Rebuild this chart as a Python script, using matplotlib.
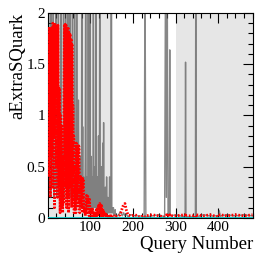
# Recreate the aExtraSQuark vs query number plot (ROOT style look)

import numpy as np
import matplotlib.pyplot as plt

# gray series, query numbers 1..160
gray_head = [0.5, 2.5, 0.6, 0.3, 0.9, 0.4, 0.2, 2.5, 0.7, 0.3,
             1.0, 0.4, 2.5, 0.5, 0.2, 0.6, 0.3, 0.8, 2.5, 0.4,
             0.2, 0.9, 0.5, 0.3, 2.5, 0.6, 0.2, 0.4, 1.1, 0.3,
             2.5, 0.5, 0.2, 0.7, 0.4, 0.3, 2.5, 0.6, 0.2, 0.5,
             0.9, 2.5, 0.3, 0.6, 0.2, 0.4, 2.5, 0.8, 0.3, 0.5,
             0.2, 2.5, 0.6, 0.4, 0.2, 1.0, 0.3, 2.5, 0.5, 0.2,
             0.7, 0.3, 2.5, 0.4, 0.2, 0.6, 0.1, 2.5, 0.3, 0.2,
             0.4, 1.15, 0.2, 0.5, 0.1, 0.3, 0.2, 0.6, 0.1, 2.5,
             0.3, 0.89, 0.2, 0.4, 0.1, 0.3, 0.1, 0.6, 2.5, 0.2,
             0.4, 0.1, 0.3, 0.2, 2.5, 0.1, 0.5, 0.2, 2.5, 0.1,
             0.3, 0.6, 0.1, 0.2, 0.4, 0.1, 2.5, 0.3, 0.1, 0.5,
             0.2, 0.1, 2.5, 0.3, 0.1, 0.4, 0.2, 0.1, 0.8, 0.1,
             0.2, 2.5, 0.1, 0.3, 0.1, 0.5, 0.1, 0.2, 0.73, 0.1,
             0.93, 0.1, 0.2, 0.05, 0.3, 0.1, 0.05, 0.4, 0.1, 0.05,
             0.2, 0.05, 0.1, 0.05, 0.4, 0.05, 0.1, 0.05, 2.5, 0.05,
             0.1, 0.05, 0.05, 0.1, 0.02, 0.05, 0.02, 0.08, 0.02, 0.03]

# red series, query numbers 1..160
red_head = [1.85, 0.4, 1.85, 1.1, 1.85, 0.2, 1.8, 1.85, 0.6, 1.85,
            0.3, 1.9, 1.88, 0.8, 1.9, 0.1, 1.9, 1.2, 1.88, 0.5,
            1.88, 1.85, 0.2, 1.88, 0.9, 1.28, 0.3, 1.25, 0.05, 1.0,
            0.4, 0.9, 0.1, 0.6, 0.05, 0.3, 0.15, 1.0, 1.89, 0.3,
            1.89, 0.6, 1.88, 0.1, 1.85, 1.2, 0.2, 1.85, 0.05, 1.8,
            0.3, 1.8, 1.78, 0.6, 1.75, 0.1, 1.7, 0.4, 1.1, 0.2,
            0.8, 0.05, 0.5, 0.1, 0.3, 0.05, 0.73, 0.2, 0.7, 0.4,
            0.72, 0.1, 0.7, 0.45, 0.05, 0.4, 0.42, 0.1, 0.4, 0.3,
            0.4, 0.05, 0.38, 0.1, 0.05, 0.1, 0.08, 0.02, 0.12, 0.2,
            0.22, 0.05, 0.2, 0.21, 0.1, 0.2, 0.02, 0.18, 0.05, 0.1,
            0.05, 0.08, 0.02, 0.06, 0.1, 0.03, 0.05, 0.02, 0.04, 0.02,
            0.05, 0.02, 0.03, 0.08, 0.02, 0.05, 0.02, 0.1, 0.12, 0.05,
            0.13, 0.14, 0.06, 0.13, 0.02, 0.12, 0.1, 0.05, 0.08, 0.02,
            0.06, 0.03, 0.05, 0.02, 0.04, 0.02, 0.03, 0.01, 0.02, 0.01,
            0.02, 0.01, 0.02, 0.01, 0.01, 0.02, 0.01, 0.01, 0.02, 0.01,
            0.02, 0.01, 0.01, 0.02, 0.01, 0.01, 0.02, 0.01, 0.01, 0.01]

# after query 160 only a few spikes stand out
tail_q = [165, 170, 175, 178, 181, 184, 188, 195, 205, 215, 226, 228, 230,
          245, 260, 274, 276, 278, 280, 282, 285, 286, 287, 300, 322, 323,
          324, 346, 347, 348, 365, 380, 400, 402, 404, 420, 440, 460, 480]
tail_gray = [0.02, 0.06, 0.02, 0.05, 0.02, 0.04, 0.01, 0.03, 0.02, 0.02, 0.01, 2.5, 0.01,
             0.02, 0.03, 0.01, 2.5, 0.2, 2.5, 0.02, 0.02, 1.64, 0.02, 0.03, 0.01, 1.52,
             0.01, 0.01, 2.5, 0.01, 0.03, 0.02, 0.02, 0.07, 0.02, 0.03, 0.02, 0.03, 0.02]
tail_red = [0.02, 0.03, 0.1, 0.13, 0.14, 0.08, 0.03, 0.02, 0.03, 0.01, 0.02, 0.01, 0.02,
            0.03, 0.02, 0.01, 0.02, 0.03, 0.01, 0.02, 0.01, 0.03, 0.02, 0.02, 0.03, 0.01,
            0.02, 0.02, 0.01, 0.03, 0.02, 0.03, 0.01, 0.02, 0.03, 0.02, 0.03, 0.02, 0.03]

# shaded query ranges
bands = [(1, 153), (300, 481)]

q = np.concatenate([np.arange(1, len(gray_head) + 1), tail_q])
gray = np.concatenate([gray_head, tail_gray])
red = np.concatenate([red_head, tail_red])
zero = np.zeros(len(q))

plt.rcParams['font.family'] = ['Liberation Serif', 'DejaVu Serif']

fig = plt.figure(figsize=(2.66, 2.60), dpi=100)
ax = fig.add_axes([0.181, 0.162, 0.77, 0.788])

for lo, hi in bands:
    ax.axvspan(lo, hi, color='#e6e6e6', lw=0, zorder=0)

ax.plot(q, gray, color='#555555', lw=1.0, alpha=0.7, zorder=2)
ax.plot(q, red, color='red', lw=2.0, ls=(0, (0.6, 0.6)), zorder=3)
ax.plot(q, zero, color='#00bcbc', lw=2.0, zorder=4)

ax.set_xlim(1, 481)
ax.set_ylim(0, 2)
ax.set_xticks([100, 200, 300, 400])
ax.set_xticks(np.arange(20, 481, 20), minor=True)
ax.set_yticks([0, 0.5, 1, 1.5, 2])
ax.set_yticklabels(['0', '0.5', '1', '1.5', '2'])
ax.set_yticks(np.arange(0, 2.01, 0.1), minor=True)

ax.tick_params(which='both', direction='in', top=True, right=True, labelsize=11, pad=2)
ax.tick_params(which='major', length=7, width=0.8)
ax.tick_params(which='minor', length=3.5, width=0.8)
for s in ax.spines.values():
    s.set_linewidth(0.8)

ax.set_xlabel('Query Number', fontsize=13.5, loc='right', labelpad=2)
ax.set_ylabel('aExtraSQuark', fontsize=13.5, loc='top', labelpad=0)

fig.savefig('out.png', dpi=100)
